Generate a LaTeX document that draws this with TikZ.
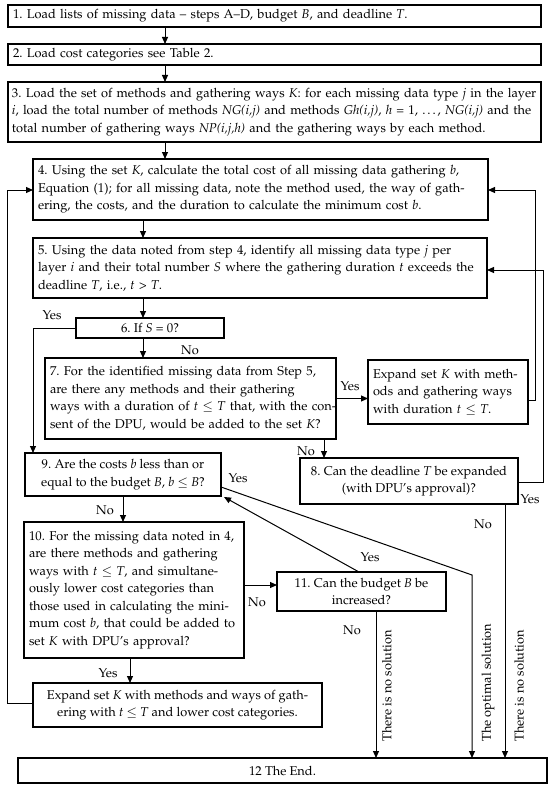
\documentclass[tikz,border=0pt]{standalone}
\usepackage[T1]{fontenc}
\usepackage{mathpazo}
\usetikzlibrary{arrows.meta}
\newcommand\myfnt{\fontsize{12.8}{17.5}\selectfont}
\newcommand\jl[1]{\hbox to\hsize{#1}}
\newcommand\lastln[1]{\hbox{#1}}
\newcommand\jtext[1]{\vbox{#1}}
\hyphenpenalty=10000
\exhyphenpenalty=10000
\frenchspacing
\begin{document}
\begin{tikzpicture}[x=1pt,y=-1pt,
  box/.style={draw, line width=1.1pt, inner xsep=5pt, inner ysep=1pt, font=\myfnt, outer sep=0pt},
  jbox/.style={box, align=left},
  cbox/.style={box, align=center},
  lbox/.style={box, align=left},
  arr/.style={line width=1pt, -{Triangle[length=7pt,width=6pt]}},
  lbl/.style={font=\myfnt, inner sep=0pt}]
\useasboundingbox (0,0) rectangle (550,789);
% boxes
\node[lbox, text width=523pt, minimum height=22pt] (b1) at (274.5,16) {1. Load lists of missing data -- steps A--D, budget \textit{B}, and deadline \textit{T}.};
\node[lbox, text width=523pt, minimum height=21pt] (b2) at (274.5,54.5) {2. Load cost categories see Table 2.};
\node[jbox, text width=525pt, inner xsep=4pt, minimum height=60pt] (b3) at (274.5,112) {\jtext{\jl{3. Load the set of methods and gathering ways \textit{K}: for each missing data type \textit{j} in the layer}\jl{\textit{i}, load the total number of methods \textit{NG(i,j)} and methods \textit{Gh(i,j)}, \textit{h} = 1, \ldots, \textit{NG(i,j)} and the}\lastln{total number of gathering ways \textit{NP(i,j,h)} and the gathering ways by each method.}}};
\node[jbox, text width=445pt, minimum height=61pt] (b4) at (260.5,189.5) {\jtext{\jl{4. Using the set \textit{K}, calculate the total cost of all missing data gathering \textit{b},}\jl{Equation (1); for all missing data, note the method used, the way of gath-}\lastln{ering, the costs, and the duration to calculate the minimum cost \textit{b}.}}};
\node[jbox, text width=444pt, minimum height=60pt] (b5) at (260,268) {\jtext{\jl{5. Using the data noted from step 4, identify all missing data type \textit{j} per}\jl{layer \textit{i} and their total number \textit{S} where the gathering duration \textit{t} exceeds the}\lastln{deadline \textit{T}, i.e., \textit{t} > \textit{T}.}}};
\node[cbox, minimum width=148pt, minimum height=20pt] (b6) at (150,328) {6. If \textit{S} = 0?};
\node[jbox, text width=281pt, minimum height=81pt] (b7) at (190.5,398.5) {\jtext{\jl{7. For the identified missing data from Step 5,}\jl{are there any methods and their gathering}\jl{ways with a duration of \textit{t} $\leq$ \textit{T} that, with the con-}\lastln{sent of the DPU, would be added to the set \textit{K}?}}};
\node[jbox, text width=150pt, minimum height=64pt] (e1) at (448,392) {\jtext{\jl{Expand set \textit{K} with meth-}\jl{ods and gathering ways}\lastln{with duration \textit{t} $\leq$ \textit{T}.}}};
\node[cbox, minimum width=196pt, minimum height=43pt] (b9) at (123,474.5) {9. Are the costs \textit{b} less than or\\ equal to the budget \textit{B}, \textit{b} $\leq$ \textit{B}?};
\node[cbox, minimum width=218pt, minimum height=46pt] (b8) at (409,481) {8. Can the deadline \textit{T} be expanded\\ (with DPU's approval)?};
\node[jbox, text width=210pt, minimum height=136pt] (b10) at (134,590) {\jtext{\jl{10. For the missing data noted in 4,}\jl{are there methods and gathering}\jl{ways with \textit{t} $\leq$ \textit{T}, and simultane-}\jl{ously lower cost categories than}\jl{those used in calculating the mini-}\jl{mum cost \textit{b}, that could be added to}\lastln{set \textit{K} with DPU's approval?}}};
\node[cbox, minimum width=169pt, minimum height=39pt] (b11) at (361.5,591.5) {11. Can the budget \textit{B} be\\ increased?};
\node[cbox, minimum width=289pt, minimum height=44pt] (e2) at (177.5,705) {Expand set \textit{K} with methods and ways of gath-\\ ering with \textit{t} $\leq$ \textit{T} and lower cost categories.};
\node[cbox, minimum width=529pt, minimum height=25pt] (b12) at (282.5,770.5) {12 The End.};
% helper coordinates
\coordinate (xA) at (165,0);
\coordinate (xB) at (143,0);
\coordinate (xL) at (7,0);
\coordinate (xY) at (33,0);
\coordinate (xR1) at (535,0);
\coordinate (xR2) at (543,0);
\coordinate (x7) at (324,0);
\coordinate (x8) at (505,0);
\coordinate (x9) at (123,0);
\coordinate (x10) at (130,0);
\coordinate (x11) at (376,0);
\coordinate (k11) at (359,0);
\coordinate (y4) at (0,190);
\coordinate (y5) at (0,270);
\coordinate (ye1) at (0,400);
\coordinate (yb8) at (0,482);
\coordinate (y9) at (0,487);
\coordinate (y10) at (0,585);
\coordinate (ye2) at (0,703);
\coordinate (kO) at (472,575);
\coordinate (k9) at (224,497);
% connectors
\draw[arr] (b1.south -| xA) -- (b2.north -| xA);
\draw[arr] (b2.south -| xA) -- (b3.north -| xA);
\draw[arr] (b3.south -| xA) -- (b4.north -| xA);
\draw[arr] (b4.south -| xB) -- (b5.north -| xB);
\draw[arr] (b5.south -| xB) -- (b6.north -| xB);
\draw[arr] (b6.south -| xB) -- (b7.north -| xB);
\draw[arr] (b6.west) -| (b9.north -| xY);
\draw[arr] (b7.east) -- (b7.east -| e1.west);
\draw[arr] (e1.east |- ye1) -- (ye1 -| xR1) -- (y4 -| xR1) -- (b4.east |- y4);
\draw[arr] (b7.south -| x7) -- (b8.north -| x7);
\draw[arr] (b8.east |- yb8) -- (yb8 -| xR2) -- (y5 -| xR2) -- (b5.east |- y5);
\draw[arr] (b8.south -| x8) -- (b12.north -| x8);
\draw[arr] (b9.south -| x9) -- (b10.north -| x9);
\draw[arr] (b9.east |- y9) -- (kO) -- (b12.north -| kO);
\draw[arr] (b10.east |- y10) -- (b11.west |- y10);
\draw[arr] (b11.north -| k11) -- (k9);
\draw[arr] (b11.south -| x11) -- (b12.north -| x11);
\draw[arr] (b10.south -| x10) -- (e2.north -| x10);
\draw[arr] (e2.west |- ye2) -- (ye2 -| xL) -- (y4 -| xL) -- (b4.west |- y4);
% labels
\node[lbl] (l1) at (190,350) {No};
\node[lbl] (l2) at (52,315) {Yes};
\node[lbl] (l3) at (350,386) {Yes};
\node[lbl] (l4) at (306,451) {No};
\node[lbl] (l5) at (530,499) {Yes};
\node[lbl] (l6) at (483,524) {No};
\node[lbl] (l7) at (105,510) {No};
\node[lbl] (l8) at (238,478) {Yes};
\node[lbl] (l9) at (257,602) {No};
\node[lbl] (l10) at (370,557) {Yes};
\node[lbl] (l11) at (352,630) {No};
\node[lbl] (l12) at (108,673) {Yes};
\node[lbl, rotate=90, anchor=west] (r1) at (387,742) {There is no solution};
\node[lbl, rotate=90, anchor=west] (r2) at (488,742) {The optimal solution};
\node[lbl, rotate=90, anchor=west] (r3) at (519,742) {There is no solution};
\end{tikzpicture}
\end{document}
